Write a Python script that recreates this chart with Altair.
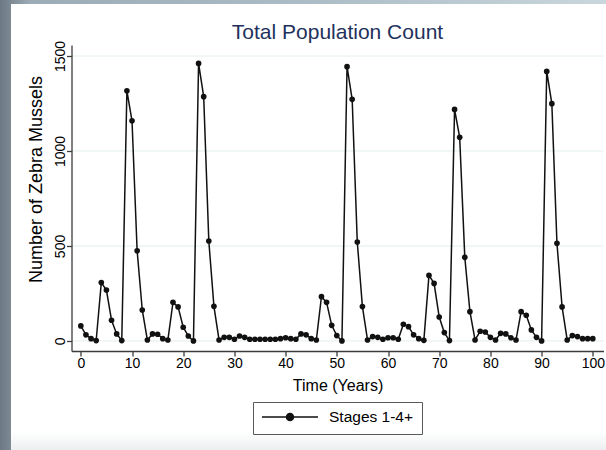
import altair as alt
import pandas as pd

# Yearly totals of zebra mussels (all stages), years 0-100
years = list(range(101))
counts = [
    79, 32, 12, 2, 307, 268, 109, 37, 2, 1317,
    1159, 475, 163, 5, 37, 35, 12, 5, 203, 179,
    72, 26, 0, 1461, 1286, 526, 182, 5, 19, 19,
    9, 26, 19, 9, 9, 9, 9, 9, 9, 12,
    17, 12, 9, 37, 32, 12, 5, 233, 203, 82,
    28, 0, 1444, 1272, 521, 181, 5, 23, 19, 9,
    17, 17, 9, 88, 75, 32, 12, 3, 345, 303,
    126, 44, 2, 1219, 1072, 440, 154, 5, 51, 47,
    19, 5, 40, 37, 17, 5, 154, 135, 58, 19,
    0, 1419, 1249, 514, 179, 5, 28, 23, 12, 12, 12,
]
series_name = "Stages 1-4+"
x_ticks = list(range(0, 101, 10))
y_ticks = [0, 500, 1000, 1500]

df = pd.DataFrame({"year": years, "count": counts, "series": [series_name] * len(years)})
grid_df = pd.DataFrame({"level": y_ticks})
one = pd.DataFrame({"k": [0]})

W, H = 532, 306
PAD_L, PAD_T = 71.5, 45
FONT = "Liberation Sans"
INK = "#111111"
AXIS_C = "#3c3c3c"

x_scale = alt.Scale(domain=[-1.82, 102.09], nice=False, zero=False)
y_scale = alt.Scale(domain=[-53, 1558], nice=False, zero=False)

x_axis = alt.Axis(
    values=x_ticks, title="Time (Years)", grid=False, zindex=1, format="d",
    domainColor=AXIS_C, domainWidth=1.3, tickColor=AXIS_C, tickWidth=1.3, tickSize=5,
    labelFont=FONT, labelFontSize=14, labelColor="black", labelPadding=0,
    titleFont=FONT, titleFontSize=16, titleFontWeight="normal", titleColor="black",
    titlePadding=7,
)
y_axis = alt.Axis(
    values=y_ticks, title="Number of Zebra Mussels", grid=False, zindex=1, format="d",
    domainColor=AXIS_C, domainWidth=1.3, tickColor=AXIS_C, tickWidth=1.3, tickSize=5,
    labelFont=FONT, labelFontSize=14, labelColor="black", labelAngle=270,
    labelAlign="center", labelBaseline="alphabetic", labelPadding=2,
    titleFont=FONT, titleFontSize=18, titleFontWeight="normal", titleColor="black",
    titleAngle=270, titleAlign="center", titleBaseline="middle",
    titleX=-35.5, titleY=134,
)

# slide-style backdrop and white page
backdrop = alt.Chart(one).mark_rect(
    color=alt.LinearGradient(
        gradient="linear", x1=0, x2=1, y1=0, y2=0,
        stops=[
            alt.GradientStop(offset=0, color="#6c7984"),
            alt.GradientStop(offset=0.02, color="#7f8c96"),
            alt.GradientStop(offset=0.05, color="#9cacb7"),
            alt.GradientStop(offset=0.5, color="#abbcc6"),
            alt.GradientStop(offset=1, color="#c9d6dc"),
        ],
    )
).encode(
    x=alt.value(-PAD_L), x2=alt.value(606 - PAD_L),
    y=alt.value(-PAD_T), y2=alt.value(450 - PAD_T),
)
page = alt.Chart(one).mark_rect(
    color=alt.LinearGradient(
        gradient="linear", x1=0, x2=0, y1=0, y2=1,
        stops=[
            alt.GradientStop(offset=0, color="#ffffff"),
            alt.GradientStop(offset=0.96, color="#ffffff"),
            alt.GradientStop(offset=1, color="#eceeef"),
        ],
    )
).encode(
    x=alt.value(11 - PAD_L), x2=alt.value(606 - PAD_L),
    y=alt.value(4 - PAD_T), y2=alt.value(450 - PAD_T),
)

grid = alt.Chart(grid_df).mark_rule(color="#e3ecee", strokeWidth=1).encode(
    y=alt.Y("level:Q", scale=y_scale, axis=y_axis),
)

legend_symbol = "M-1,0H1M-0.125,0A0.125,0.125,0,1,1,0.125,0A0.125,0.125,0,1,1,-0.125,0Z"

line = alt.Chart(df).mark_line(
    strokeWidth=1.5,
    point=alt.OverlayMarkDef(filled=True, size=32),
).encode(
    x=alt.X("year:Q", scale=x_scale, axis=x_axis),
    y=alt.Y("count:Q", scale=y_scale, axis=y_axis),
    color=alt.Color(
        "series:N",
        scale=alt.Scale(range=[INK]),
        legend=alt.Legend(
            title=None, orient="none", legendX=253 - PAD_L, legendY=402 - PAD_T,
            padding=8, strokeColor="#5a5a5a", fillColor="white", cornerRadius=0,
            symbolType=legend_symbol, symbolSize=3136, symbolStrokeWidth=1.5,
            symbolFillColor=INK, symbolStrokeColor=INK,
            labelFont=FONT, labelFontSize=15.5, labelColor="black", labelOffset=10,
            clipHeight=14,
        ),
    ),
)

chart = alt.layer(backdrop, page, grid, line).properties(
    width=W, height=H,
    title=alt.TitleParams(
        "Total Population Count", font=FONT, fontSize=21, fontWeight="normal",
        color="#22315c", anchor="middle", frame="group", baseline="alphabetic",
        offset=5, dy=65,
    ),
    autosize=alt.AutoSizeParams(type="none"),
    padding={"left": PAD_L, "top": PAD_T, "right": 606 - PAD_L - W, "bottom": 450 - PAD_T - H},
).configure_view(stroke=None).configure(background="#8a97a1")

chart.save("out.html", embed_options={"renderer": "svg", "actions": False})
